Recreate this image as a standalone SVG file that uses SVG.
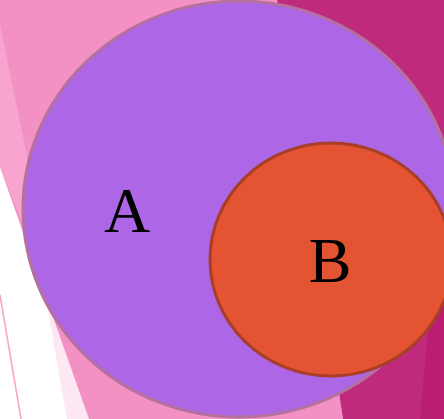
<svg xmlns="http://www.w3.org/2000/svg" width="444" height="419" viewBox="0 0 444 419">
  <style>
    .lbl { font-family: "Liberation Serif", "Times New Roman", serif; font-size: 64px; fill: #000000; text-anchor: middle; }
  </style>
  <g id="background">
    <rect x="0" y="0" width="444" height="419" fill="#ffffff"/>
    <polygon points="20,150 67,419 100,419 40,150" fill="#fce7f2"/>
    <polygon points="0,0 277,0 343,419 89,419 0,167" fill="#f391c5"/>
    <polygon points="0,25 60,316 0,167" fill="#f7a4cf"/>
    <line x1="0" y1="295" x2="21" y2="419" stroke="#f7a4cf" stroke-width="1.6"/>
    <polygon points="277,0 444,0 444,419 343,419" fill="#bf2a7d"/>
    <polygon points="444,150 444,419 420,419" fill="#ba1e72"/>
  </g>
  <g id="node-A">
    <ellipse cx="239" cy="209" rx="216" ry="208" fill="#ad66e6" stroke="#b4709f" stroke-width="3"/>
    <text class="lbl" x="127" y="232">A</text>
  </g>
  <g id="node-B">
    <ellipse cx="331" cy="259.5" rx="121" ry="116.5" fill="#e55432" stroke="#a83e27" stroke-width="3"/>
    <text class="lbl" x="330" y="282">B</text>
  </g>
  <g id="connectors"/>
</svg>
